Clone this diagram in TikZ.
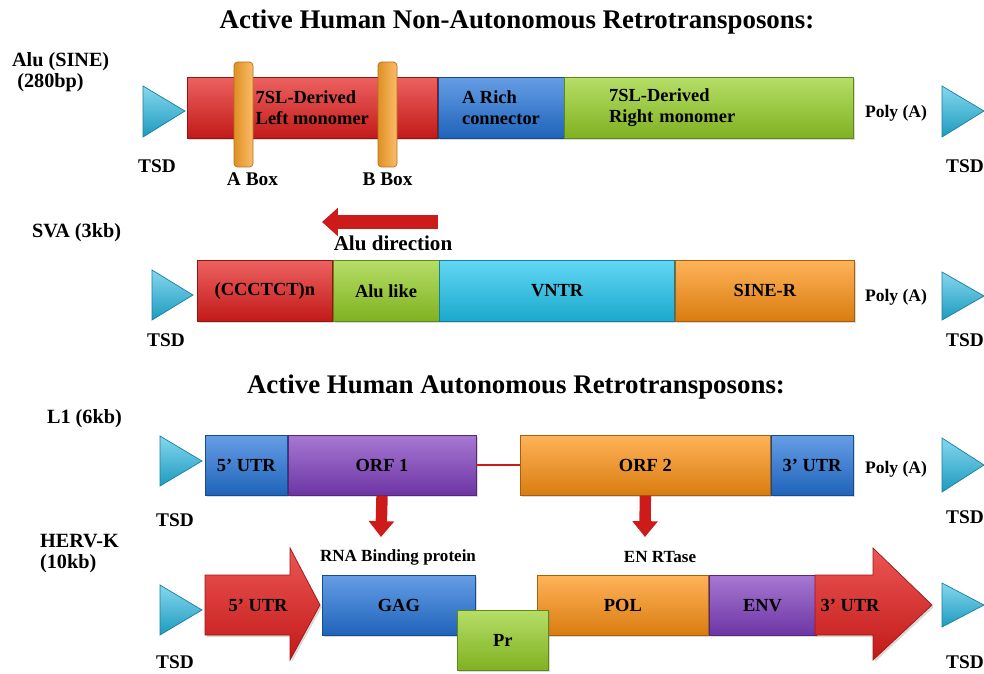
\documentclass[tikz,border=0pt]{standalone}
\usepackage{fontspec}
\setmainfont{Liberation Serif}
\usepackage{tikz}
\usetikzlibrary{positioning,arrows.meta,shadows}
\definecolor{segred}{RGB}{228,30,28}
\definecolor{segblue}{RGB}{36,116,218}
\definecolor{seggreen}{RGB}{150,208,38}
\definecolor{segcyan}{RGB}{30,198,240}
\definecolor{segorange}{RGB}{255,146,18}
\definecolor{segpurple}{RGB}{128,62,192}
\definecolor{tsdcyan}{RGB}{34,182,224}
\definecolor{boxorange}{RGB}{248,160,40}

\begin{document}
\begin{tikzpicture}[x=0.02cm,y=-0.02cm,>=stealth,
  txt/.style={font=\bfseries\fontsize{#1}{12}\selectfont,inner sep=1pt},
  txt/.default=10.5,
  seg/.style={draw=#1!65!black,top color=#1!70!white,middle color=#1,bottom color=#1!85!black,
    minimum height=1.22cm,inner sep=0pt,align=left,txt=10.5,
    drop shadow={opacity=0.3,shadow xshift=1pt,shadow yshift=-1.2pt}},
  tsdtri/.style={draw=tsdcyan!70!black,top color=tsdcyan!55!white,bottom color=tsdcyan!85!black},
  fatarrow/.style={draw=segred!70!black,top color=segred!75!white,middle color=segred,bottom color=segred!85!black,
    drop shadow={opacity=0.3,shadow xshift=1pt,shadow yshift=-1.2pt}},
  abox/.style={draw=boxorange!70!black,left color=boxorange!90!black,right color=boxorange!70!white,
    rounded corners=2pt,minimum width=0.38cm,minimum height=2.1cm,inner sep=0pt},
  redarrow/.style={draw=segred!90!black,line width=#1},
  redarrow/.default=6.5pt]
  \useasboundingbox (0,0) rectangle (984,673);

  \node[txt=15.3] (titlenon) at (517,22) {Active Human Non-Autonomous Retrotransposons:};
  \node[txt=11.5,anchor=west,align=left] (alulab) at (10,72) {Alu (SINE)\\\hspace*{3pt}(280bp)};
  \path[tsdtri] (143,86) -- (185,111) -- (143,137) -- cycle;
  \path[tsdtri] (942,86) -- (984,111) -- (942,137) -- cycle;
  \node[seg=segred,minimum width=5cm,anchor=north west] (alul) at (187,77) {7SL-Derived\\Left monomer};
  \node[seg=segblue,minimum width=2.52cm,right=0pt of alul] (alua) {A Rich\\connector};
  \node[seg=seggreen,minimum width=5.78cm,text width=4cm,right=0pt of alua] (alur) {7SL-Derived\\Right monomer};
  \node[abox] (boxa) at (243.5,114.5) {};
  \node[abox] (boxb) at (387.5,114.5) {};
  \node[txt=11,below=2pt of boxa,xshift=0.18cm] (boxalab) {A Box};
  \node[txt=11,below=2pt of boxb] (boxblab) {B Box};
  \node[txt=10] (polya) at (896,113) {Poly (A)};
  \node[txt=11] (tsda) at (157,166) {TSD};
  \node[txt=11] (tsdb) at (965,166) {TSD};

  \coordinate (dirtail) at (438,222);
  \coordinate (dirtip) at (322,222);
  \draw[redarrow=8pt,-{Triangle[width=15.5pt,length=9pt]}] (dirtail) -- (dirtip);
  \node[txt=12] (dirlab) at (393,243) {Alu direction};
  \node[txt=11.5,anchor=west] (svalab) at (30,233) {SVA (3kb)};
  \path[tsdtri] (152,270) -- (193,295) -- (152,320) -- cycle;
  \path[tsdtri] (942,272) -- (984,296) -- (942,320) -- cycle;
  \node[seg=segred,minimum width=2.7cm,anchor=north west] (svacct) at (197,260) {(CCCTCT)n};
  \node[seg=seggreen,minimum width=2.12cm,right=0pt of svacct] (svaalu) {Alu like};
  \node[seg=segcyan,minimum width=4.7cm,right=0pt of svaalu] (svavntr) {VNTR};
  \node[seg=segorange,minimum width=3.58cm,right=0pt of svavntr] (svasine) {SINE-R};
  \node[txt=10] (polyb) at (896,297) {Poly (A)};
  \node[txt=11] (tsdc) at (166,340) {TSD};
  \node[txt=11] (tsdd) at (965,340) {TSD};

  \node[txt=15.3] (titleaut) at (516,387) {Active Human Autonomous Retrotransposons:};
  \node[txt=11.5,anchor=west] (l1lab) at (45,419) {L1 (6kb)};
  \path[tsdtri] (160,436) -- (202,461) -- (160,486) -- cycle;
  \path[tsdtri] (942,438) -- (984,465) -- (942,492) -- cycle;
  \node[seg=segblue,minimum width=1.64cm,minimum height=1.2cm,anchor=north west] (utr5) at (205,435) {5' UTR};
  \node[seg=segpurple,minimum width=3.76cm,minimum height=1.2cm,right=0pt of utr5] (orf1) {ORF 1};
  \node[seg=segorange,minimum width=5cm,minimum height=1.2cm,anchor=north west] (orf2) at (520,435) {ORF 2};
  \node[seg=segblue,minimum width=1.64cm,minimum height=1.2cm,right=0pt of orf2] (utr3) {3' UTR};
  \draw[redarrow=1.2pt] (orf1.east) -- (orf2.west);
  \node[txt=10] (polyc) at (896,469) {Poly (A)};
  \node[txt=11] (tsde) at (175,520) {TSD};
  \node[txt=11] (tsdf) at (965,517) {TSD};
  \coordinate (tipa) at (381,537);
  \coordinate (tipb) at (645,537);
  \draw[redarrow,-{Triangle[width=14pt,length=9pt]}] (orf1.south) -- (tipa);
  \draw[redarrow,-{Triangle[width=14pt,length=9pt]}] (orf2.south) -- (tipb);
  \node[txt=9.7] (rnabp) at (398,557) {RNA Binding protein};
  \node[txt=9.7] (enrt) at (660,557) {EN RTase};

  \node[txt=11.5,anchor=west,align=left] (hervlab) at (38,553.5) {HERV-K\\(10kb)};
  \path[tsdtri] (160,585) -- (202,610) -- (160,635) -- cycle;
  \path[tsdtri] (942,583) -- (984,605) -- (942,627) -- cycle;
  \path[fatarrow] (205,575) -- (290,575) -- (290,548) -- (320,605) -- (290,660) -- (290,635) -- (205,635) -- cycle;
  \node[txt=10.5] (hutr5) at (258,605) {5' UTR};
  \node[seg=segblue,minimum width=3.06cm,minimum height=1.2cm,anchor=north west] (gag) at (322,575) {GAG};
  \node[seg=segorange,minimum width=3.42cm,minimum height=1.2cm,anchor=north west] (pol) at (537,575) {POL};
  \node[seg=segpurple,minimum width=2.14cm,minimum height=1.2cm,right=0pt of pol] (env) {ENV};
  \node[seg=seggreen,minimum width=1.82cm,minimum height=1.2cm,anchor=north west] (pr) at (457,610) {Pr};
  \path[fatarrow] (815,575) -- (873,575) -- (873,548) -- (932,605) -- (873,660) -- (873,635) -- (815,635) -- cycle;
  \node[txt=10.5] (hutr3) at (850,605) {3' UTR};
  \node[txt=11] (tsdg) at (175,662) {TSD};
  \node[txt=11] (tsdh) at (965,662) {TSD};
\end{tikzpicture}
\end{document}
